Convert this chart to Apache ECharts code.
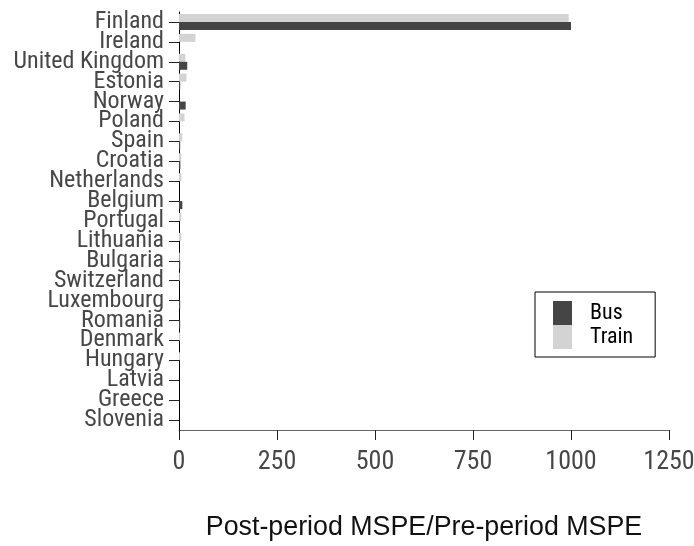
<!DOCTYPE html>
<html>
<head>
<meta charset="utf-8">
<script src="https://cdn.jsdelivr.net/npm/echarts@6/dist/echarts.min.js"></script>
<style>
  html, body { margin: 0; padding: 0; background: #ffffff; }
  #chart { width: 694px; height: 546px; }
</style>
</head>
<body>
<div id="chart"></div>
<script>
// Countries ranked by post/pre-period MSPE ratio
const countries = [
  'Finland', 'Ireland', 'United Kingdom', 'Estonia', 'Norway', 'Poland', 'Spain',
  'Croatia', 'Netherlands', 'Belgium', 'Portugal', 'Lithuania', 'Bulgaria',
  'Switzerland', 'Luxembourg', 'Romania', 'Denmark', 'Hungary', 'Latvia',
  'Greece', 'Slovenia'
];
const busRatio = [1000, 0, 21, 3, 17, 0, 3, 3.5, 0, 8.5, 0, 0, 3, 0, 3, 3, 0, 0, 0, 0, 0];
const trainRatio = [994, 42, 16, 19, 0, 14, 8.5, 6, 6, 0, 6, 6, 2, 2, 0, 0, 3, 2.5, 0, 0, 0];
const xTicks = { min: 0, max: 1250, step: 250 };

const condensed = '"Roboto Condensed", Roboto, sans-serif';
const regular = '"Liberation Sans", Arial, sans-serif';

const chart = echarts.init(document.getElementById('chart'), null, { renderer: 'canvas' });
chart.setOption({
  animation: false,
  backgroundColor: '#ffffff',
  grid: { left: 179, right: 25, top: 12, bottom: 116, containLabel: false, outerBoundsMode: 'none' },
  legend: {
    data: ['Bus', 'Train'],
    orient: 'vertical',
    left: 535,
    top: 292,
    itemGap: 0,
    itemWidth: 19,
    itemHeight: 24,
    icon: 'rect',
    borderColor: '#000000',
    borderWidth: 1,
    padding: [9, 22, 8, 18],
    textStyle: { fontFamily: condensed, fontWeight: 'condensed', fontSize: 22, color: '#000000', padding: [0, 0, 0, 13] }
  },
  xAxis: {
    type: 'value',
    min: xTicks.min,
    max: xTicks.max,
    interval: xTicks.step,
    name: 'Post-period MSPE/Pre-period MSPE',
    nameLocation: 'middle',
    nameGap: 84,
    nameTextStyle: { fontFamily: regular, fontSize: 26.8, color: '#111111', verticalAlign: 'top' },
    axisLine: { show: true, lineStyle: { color: '#666666', width: 1 } },
    axisTick: { show: true, length: 10, lineStyle: { color: '#222222', width: 1 } },
    axisLabel: {
      fontFamily: condensed, fontWeight: 'condensed', fontSize: 26, color: '#474747', margin: 19,
      formatter: (v) => String(v)
    },
    splitLine: { show: false }
  },
  yAxis: {
    type: 'category',
    inverse: true,
    data: countries,
    axisLine: { show: true, lineStyle: { color: '#000000', width: 1 } },
    axisTick: { show: true, alignWithLabel: true, length: 10, lineStyle: { color: '#222222', width: 1 } },
    axisLabel: { fontFamily: condensed, fontWeight: 'condensed', fontSize: 24, color: '#474747', margin: 15, interval: 0 },
    splitLine: { show: false }
  },
  series: [
    {
      name: 'Train',
      type: 'bar',
      data: trainRatio,
      barWidth: 8,
      barGap: '0%',
      itemStyle: { color: '#d3d3d3' }
    },
    {
      name: 'Bus',
      type: 'bar',
      data: busRatio,
      barWidth: 8,
      barGap: '0%',
      itemStyle: { color: '#454545' }
    }
  ]
});
</script>
</body>
</html>
